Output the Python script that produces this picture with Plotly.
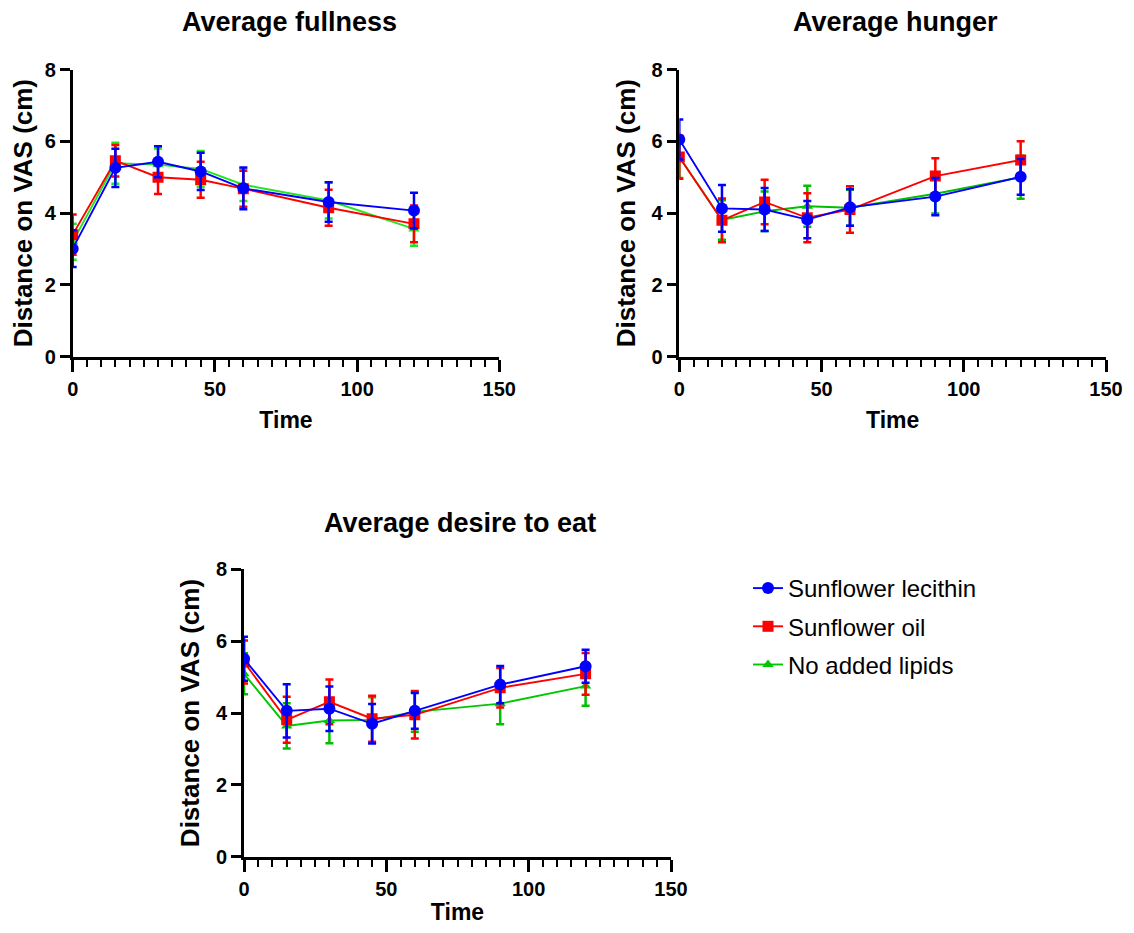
import plotly.graph_objects as go

time = [0, 15, 30, 45, 60, 90, 120]
series_names = ["Sunflower lecithin", "Sunflower oil", "No added lipids"]
panel_titles = ["Average fullness", "Average hunger", "Average desire to eat"]

fullness_lec = [3.01, 5.26, 5.43, 5.16, 4.69, 4.31, 4.07]
fullness_lec_err = [0.51, 0.53, 0.43, 0.52, 0.58, 0.55, 0.50]
fullness_oil = [3.40, 5.46, 5.00, 4.93, 4.68, 4.15, 3.70]
fullness_oil_err = [0.56, 0.44, 0.47, 0.50, 0.50, 0.50, 0.51]
fullness_none = [3.20, 5.39, 5.35, 5.23, 4.79, 4.35, 3.56]
fullness_none_err = [0.50, 0.57, 0.45, 0.50, 0.45, 0.50, 0.47]

hunger_lec = [6.05, 4.13, 4.10, 3.82, 4.16, 4.46, 5.01]
hunger_lec_err = [0.56, 0.65, 0.60, 0.52, 0.51, 0.52, 0.50]
hunger_oil = [5.56, 3.80, 4.31, 3.87, 4.10, 5.03, 5.48]
hunger_oil_err = [0.60, 0.61, 0.62, 0.68, 0.65, 0.50, 0.52]
hunger_none = [5.56, 3.81, 4.05, 4.19, 4.15, 4.54, 5.00]
hunger_none_err = [0.58, 0.55, 0.55, 0.57, 0.50, 0.55, 0.60]

desire_lec = [5.51, 4.06, 4.12, 3.70, 4.06, 4.79, 5.30]
desire_lec_err = [0.61, 0.74, 0.62, 0.55, 0.50, 0.52, 0.46]
desire_oil = [5.42, 3.81, 4.31, 3.84, 3.95, 4.70, 5.09]
desire_oil_err = [0.60, 0.64, 0.62, 0.64, 0.66, 0.55, 0.58]
desire_none = [5.09, 3.64, 3.79, 3.81, 4.03, 4.26, 4.75]
desire_none_err = [0.57, 0.63, 0.63, 0.63, 0.55, 0.57, 0.55]

panels = [
    (fullness_lec, fullness_lec_err, fullness_oil, fullness_oil_err, fullness_none, fullness_none_err),
    (hunger_lec, hunger_lec_err, hunger_oil, hunger_oil_err, hunger_none, hunger_none_err),
    (desire_lec, desire_lec_err, desire_oil, desire_oil_err, desire_none, desire_none_err),
]

# page has an 8px body margin; figure sized to fit the 1134x933 window exactly
OFF = 8
W, H = 1134 - 2 * OFF, 933 - 2 * OFF
FONT = "Arial, 'Liberation Sans', Helvetica, sans-serif"

# pixel boxes in page coordinates (left, right, top, bottom)
boxes = [(72.7, 499.3, 69.5, 356.7), (679.3, 1106.0, 69.5, 356.7), (244.0, 671.0, 569.3, 856.7)]
title_pos = [(289, 22), (895, 22), (460, 523)]


def px(x):
    return (x - OFF) / W


def py(y):
    return 1 - (y - OFF) / H


colors = ["#0000ff", "#ff0000", "#00c800"]
green_by_panel = ["#22e622", "#00c000", "#00c000"]
symbols = ["circle", "square", "triangle-up"]
sizes = [12, 11, 10]

fig = go.Figure()

for p, data in enumerate(panels):
    ax = "" if p == 0 else str(p + 1)
    xref = "x" + ax
    yref = "y" + ax
    vals = [(data[0], data[1]), (data[2], data[3]), (data[4], data[5])]
    # draw green first, blue last (blue on top)
    for s in [2, 1, 0]:
        y, e = vals[s]
        col = green_by_panel[p] if s == 2 else colors[s]
        fig.add_trace(go.Scatter(
            x=time, y=y, xaxis=xref, yaxis=yref,
            mode="lines+markers",
            name=series_names[s],
            legendrank=s + 1,
            legendgroup="g%d" % s,
            showlegend=(p == 2),
            line=dict(color=colors[s] if p == 2 else col, width=1.9),
            marker=dict(symbol=symbols[s], size=sizes[s], color=colors[s] if p == 2 else col),
            error_y=dict(type="data", array=e, visible=True, color=col, thickness=2.5, width=4),
        ))

    l, r, t, b = boxes[p]
    xa = dict(
        domain=[px(l), px(r)], range=[0, 150], anchor=yref, automargin=False,
        showline=True, linecolor="black", linewidth=2.6,
        ticks="outside", ticklen=12, tickwidth=2.6, tickcolor="black",
        tickmode="linear", tick0=0, dtick=50,
        minor=dict(tickmode="linear", tick0=0, dtick=5, ticks="outside", ticklen=7,
                   tickwidth=2.2, tickcolor="black", showgrid=False),
        showgrid=False, zeroline=False,
        tickfont=dict(family=FONT, size=20, color="black", weight="bold"),
        title=dict(text="<b>Time</b>", font=dict(family=FONT, size=23, color="black"), standoff=14),
    )
    ya = dict(
        domain=[py(b), py(t)], range=[0, 8], anchor=xref, automargin=False,
        showline=True, linecolor="black", linewidth=2.6,
        ticks="outside", ticklen=10, tickwidth=2.6, tickcolor="black",
        tickmode="linear", tick0=0, dtick=2,
        showgrid=False, zeroline=False,
        tickfont=dict(family=FONT, size=20, color="black", weight="bold"),
        title=dict(text="<b>Distance on VAS (cm)</b>", font=dict(family=FONT, size=26, color="black"), standoff=9),
    )
    fig.update_layout(**{"xaxis" + ax: xa, "yaxis" + ax: ya})

    tx, ty = title_pos[p]
    fig.add_annotation(
        text="<b>" + panel_titles[p] + "</b>", x=px(tx), y=py(ty),
        xref="paper", yref="paper", xanchor="center", yanchor="middle",
        showarrow=False, font=dict(family=FONT, size=27, color="black"),
    )

fig.update_layout(
    width=W, height=H,
    margin=dict(l=0, r=0, t=0, b=0),
    paper_bgcolor="white", plot_bgcolor="white",
    showlegend=True,
    legend=dict(
        x=px(748), y=py(566), xanchor="left", yanchor="top",
        font=dict(family=FONT, size=24, color="black"),
        traceorder="grouped", tracegroupgap=4,
        bgcolor="rgba(0,0,0,0)", itemwidth=30,
    ),
)

fig.write_html("out.html")
